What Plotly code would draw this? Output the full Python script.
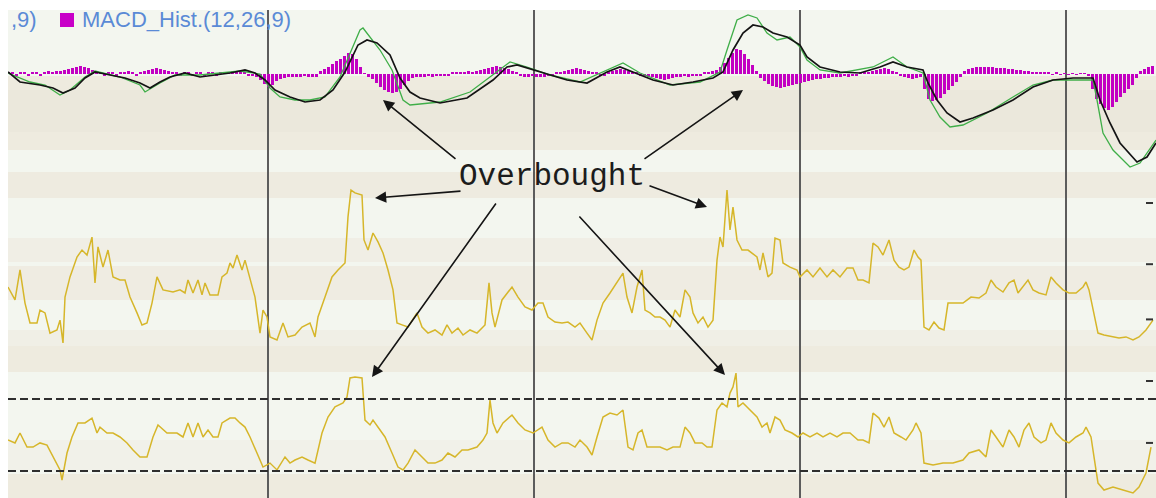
import plotly.graph_objects as go

# ---------------- data (bar index, value) ----------------
N_BARS = 287
PERIOD_BREAKS = [65, 131.4, 197.9, 264.4]

# MACD histogram, one value per bar (0..286)
HIST = [
    0.05, 0.04, -0.03, 0.04, 0.05, -0.04, 0.04, 0.05, -0.03, 0.04, 0.06, 0.05, 0.06,
    0.06, 0.08, 0.10, 0.12, 0.14, 0.16, 0.14, 0.12, 0.08, 0.05,
    0.04, -0.03, 0.05, 0.04, -0.04, 0.05, 0.04, 0.06, 0.05, -0.03,
    0.05, 0.06, 0.08, 0.10, 0.12, 0.10, 0.08, 0.06, 0.04,
    0.04, -0.03, 0.04, 0.05, -0.04, 0.03, 0.04, -0.03, 0.05, 0.04,
    -0.04, 0.03, 0.05, 0.04, 0.06, 0.05, 0.04, 0.03, -0.03, -0.04,
    -0.06, -0.12, -0.20, -0.26, -0.22,
    -0.14, -0.10, -0.08, -0.06, -0.05, -0.06, -0.05, -0.04, -0.05, -0.06, -0.05,
    0.06, 0.10, 0.14, 0.20, 0.26,
    0.30, 0.36, 0.42, 0.40, 0.30,
    0.14, 0.02, -0.06,
    -0.10, -0.18, -0.26, -0.32, -0.36, -0.38, -0.36, -0.30, -0.22, -0.14,
    -0.08, -0.06, -0.05, -0.06, -0.04, -0.05, -0.04, -0.03, -0.04, -0.03,
    0.03, 0.04, 0.03, 0.05, 0.06, 0.05, 0.06, 0.08, 0.10, 0.12,
    0.14, 0.16, 0.14, 0.12, 0.10, 0.06, 0.04,
    -0.04, -0.05, -0.06, -0.04, -0.05, -0.06, -0.05, -0.04, -0.03, 0.03,
    0.04, 0.06, 0.08, 0.10, 0.12, 0.10, 0.08, 0.06, 0.04, 0.03,
    -0.03, -0.04, 0.04, 0.06, 0.08, 0.10, 0.08, 0.06, 0.04, 0.03, -0.03, -0.04, -0.05,
    -0.06, -0.08, -0.10, -0.12, -0.10, -0.08, -0.06, -0.05, -0.04, -0.05,
    -0.04, -0.03, -0.04, 0.03, 0.04, 0.06, 0.08,
    0.14, 0.22, 0.32, 0.42, 0.50, 0.48, 0.40, 0.30, 0.18, 0.06,
    -0.08, -0.14, -0.20, -0.24, -0.26, -0.28, -0.26, -0.24, -0.22, -0.20,
    -0.18, -0.16, -0.14, -0.12, -0.10, -0.10, -0.08, -0.08, -0.06, -0.06,
    -0.05, -0.04, -0.05, -0.04, -0.03, 0.03, 0.04, 0.05,
    0.06, 0.08, 0.10, 0.12, 0.10, 0.06, 0.03, -0.04, -0.06,
    -0.08, -0.10, -0.08, -0.06,
    -0.30, -0.50, -0.54, -0.52, -0.48, -0.40, -0.32, -0.24, -0.16, -0.06,
    0.06, 0.10, 0.13, 0.14, 0.15, 0.14, 0.15, 0.14, 0.13, 0.12,
    0.12, 0.10, 0.10, 0.09, 0.08, 0.07, 0.06, 0.05, 0.05, 0.04, 0.04,
    0.03, -0.02, 0.03, -0.02, 0.02, -0.02, 0.02, -0.02, 0.02, 0.02, -0.04,
    -0.30, -0.50, -0.60, -0.68, -0.72, -0.66, -0.56, -0.46, -0.38, -0.30, -0.22, -0.08,
    0.06, 0.10, 0.14, 0.16,
]

# black MACD line
BLACK_LINE = [
    (0, 0.04), (3, -0.16), (8, -0.22), (11.25, -0.28), (13.75, -0.38), (16.75, -0.28),
    (19.25, -0.08), (21.75, 0.04), (25.5, -0.02), (29.25, -0.08), (33, -0.18), (35.5, -0.28),
    (38, -0.16), (40.5, -0.06), (44.25, 0.02), (48, -0.06), (51.75, -0.02), (55.5, 0.02),
    (59.25, 0.08), (61.75, 0.02), (64.25, -0.12), (66.75, -0.32), (70.5, -0.46), (74.25, -0.56),
    (78, -0.52), (81.25, -0.32), (84.25, 0.04), (86, 0.32), (87.5, 0.58), (89.75, 0.68),
    (92.25, 0.62), (95.5, 0.38), (98, -0.08), (100.5, -0.36), (103, -0.48), (108, -0.58),
    (114.75, -0.48), (121.25, -0.12), (124.75, 0.14), (127.25, 0.18), (131.25, 0.08),
    (135.5, -0.02), (139.75, -0.12), (144.75, -0.18), (149.75, 0.04), (153, 0.14),
    (156.25, 0.04), (161.25, -0.12), (166.25, -0.22), (171.25, -0.16), (176.25, -0.08),
    (178.75, 0.04), (181.25, 0.48), (183.75, 0.82), (186.25, 0.98), (188.75, 0.94),
    (191.25, 0.82), (194.75, 0.74), (198, 0.58), (199.75, 0.34), (203, 0.14), (208, 0.04),
    (213, 0.02), (218, 0.14), (221.25, 0.24), (224.75, 0.14), (228.75, 0.08), (230, -0.18),
    (232.25, -0.52), (234.75, -0.78), (238, -0.96), (241.25, -0.88), (246.25, -0.72),
    (251.25, -0.52), (256.25, -0.26), (261.25, -0.12), (266.25, -0.08), (271.25, -0.08),
    (273, -0.52), (275.5, -0.98), (278, -1.38), (282.25, -1.76), (284.75, -1.66), (287, -1.38),
]

# green signal line
GREEN_LINE = [
    (0, 0.02), (5.5, -0.16), (9.25, -0.22), (13, -0.42), (15.5, -0.32), (19.25, -0.06),
    (21.75, 0.06), (28, -0.06), (33, -0.22), (34.25, -0.36), (38, -0.18), (41.75, -0.02),
    (48, -0.02), (58, 0.06), (63, 0.0), (65.5, -0.28), (68, -0.46), (71.75, -0.52),
    (75.5, -0.52), (79.25, -0.46), (83, -0.06), (85.5, 0.42), (88, 0.88), (88.75, 0.92),
    (90.5, 0.74), (93, 0.48), (96, 0.08), (98.75, -0.52), (100.5, -0.62), (108, -0.56),
    (115.5, -0.36), (121.25, -0.02), (125.5, 0.24), (129.75, 0.14), (135.5, -0.02),
    (143, -0.16), (149.75, 0.08), (153.75, 0.22), (158, 0.02), (165.5, -0.22), (173, -0.16),
    (178, 0.04), (179.75, 0.48), (182.25, 1.08), (185, 1.18), (187.25, 1.12), (189.75, 0.82),
    (192.25, 0.68), (195.5, 0.74), (198, 0.54), (199.75, 0.28), (203, 0.08), (208, 0.02),
    (216.25, 0.14), (221.25, 0.34), (224.75, 0.14), (228.75, 0.02), (230.5, -0.52),
    (233, -0.86), (235.5, -1.06), (238.75, -1.02), (244.75, -0.78), (251.25, -0.46),
    (256.25, -0.22), (261.25, -0.12), (271.25, -0.12), (272.25, -0.52), (273.75, -1.18),
    (276.25, -1.52), (280.5, -1.86), (283, -1.78), (287, -1.32),
]

# middle yellow indicator
MID_LINE = [
    (0, 40.0), (1.75, 34.6), (3, 47.1), (4.25, 33.3), (5.5, 25.0), (7.25, 25.0), (8, 30.4),
    (9.25, 29.2), (10.5, 20.8), (12.25, 22.1), (13, 26.2), (13.75, 16.7), (14.25, 35.8),
    (15.5, 44.2), (17.25, 52.5), (18.5, 55.4), (19.75, 53.3), (21, 60.8), (21.75, 41.7),
    (22.5, 56.7), (23.75, 48.3), (25, 55.4), (26.25, 44.2), (28, 42.9), (29.25, 42.9),
    (30.5, 35.8), (32.25, 29.2), (33.5, 24.2), (34.75, 25.0), (36, 33.3), (37.25, 44.2),
    (38.75, 38.8), (41.25, 37.9), (43, 38.8), (44.25, 37.5), (45, 42.9), (46.25, 37.5),
    (47.5, 42.9), (48.5, 36.7), (49.25, 41.7), (50.5, 36.7), (52.5, 36.7), (53.5, 44.2),
    (54.75, 45.8), (55.5, 50.0), (56.25, 47.9), (57.25, 53.3), (58.5, 47.1), (59.25, 51.2),
    (60.5, 42.9), (61.75, 35.8), (63, 20.8), (63.75, 30.4), (64.75, 27.5), (65.5, 19.2),
    (67.25, 17.9), (68.75, 25.0), (70, 19.2), (71.75, 20.0), (73.5, 23.3), (75.5, 25.0),
    (76.75, 19.2), (77.5, 27.5), (79.25, 35.8), (81, 44.2), (82.5, 47.1), (84.25, 50.0),
    (85, 69.2), (85.75, 80.4), (86.75, 79.2), (88.5, 78.3), (89, 59.6), (90, 55.4),
    (91.25, 62.5), (92.5, 58.8), (93.75, 54.2), (95, 47.1), (96.25, 38.8), (97.25, 25.0),
    (98.5, 24.2), (100, 23.3), (102.25, 29.2), (103.5, 23.3), (105, 20.8), (106.75, 22.1),
    (108.5, 20.0), (109.75, 24.2), (111, 20.8), (112.5, 22.9), (113.75, 20.0), (115.5, 22.1),
    (117.25, 20.8), (118.5, 22.9), (119.25, 24.2), (120.25, 41.7), (121, 29.2), (121.75, 23.3),
    (123.5, 34.6), (126, 40.0), (127.5, 35.8), (129.25, 31.7), (131, 30.4), (132.5, 33.3),
    (133.75, 33.3), (135, 27.5), (136.75, 25.4), (138.5, 25.0), (140, 25.4), (141.75, 23.3),
    (143, 25.0), (144.75, 20.8), (146, 17.9), (147.25, 26.2), (148.75, 33.3), (150.5, 37.5),
    (152.25, 41.7), (153.75, 45.8), (154.75, 35.8), (156, 29.2), (157.25, 40.0), (158.5, 47.1),
    (159.25, 30.4), (160.5, 29.2), (161.75, 27.5), (163, 27.5), (164.25, 26.2), (165.5, 23.3),
    (166.75, 30.4), (168, 27.5), (169.25, 38.8), (170.5, 35.8), (171.25, 29.2), (172.5, 25.0),
    (173.75, 27.5), (175, 23.3), (176.25, 26.2), (177.25, 51.2), (178, 60.8), (178.75, 56.7),
    (179.75, 80.4), (180.5, 63.8), (181.25, 73.3), (182.25, 59.6), (183.5, 55.4), (185, 55.4),
    (187.25, 52.5), (188, 47.1), (188.75, 54.2), (190, 44.2), (191, 45.8), (191.75, 60.4),
    (193, 59.6), (193.75, 50.0), (195.5, 48.3), (197.25, 47.1), (198, 44.2), (199.75, 47.1),
    (201.25, 44.2), (203, 47.9), (204.75, 44.2), (206.25, 47.1), (208, 44.2), (209.75, 47.9),
    (211.25, 47.9), (212.5, 42.9), (213.75, 42.9), (215.25, 41.7), (216.25, 58.3), (217.5, 56.7),
    (218.75, 53.3), (220.25, 59.6), (221.5, 51.2), (222.75, 48.3), (224, 47.1), (225.25, 48.3),
    (226.5, 55.4), (227.5, 52.5), (228.25, 51.2), (229, 23.3), (230.25, 22.1), (231.5, 25.4),
    (232.75, 22.9), (234, 22.1), (235, 33.3), (237, 33.3), (238.75, 33.3), (240.75, 35.8),
    (242.75, 35.4), (244.5, 37.5), (245.75, 42.9), (247, 40.0), (248.75, 37.9), (250.25, 41.7),
    (251.5, 42.9), (252.5, 37.5), (253.75, 40.0), (255, 42.9), (256.25, 38.8), (257.75, 37.5),
    (259.5, 36.7), (260.75, 44.2), (262, 41.7), (263.75, 38.8), (265.25, 37.5), (267, 37.5),
    (268.75, 40.0), (269.5, 42.1), (270.25, 38.8), (271.5, 29.2), (272.5, 20.8), (274, 20.0),
    (276.25, 19.2), (277.75, 18.8), (279.5, 19.2), (281.25, 17.9), (282.75, 19.2),
    (284.5, 22.1), (286.25, 26.2),
]

# lower yellow oscillator (RSI-like, with 70 / 30 bands)
LOW_LINE = [
    (0, 47.2), (1.75, 45.6), (3, 51.1), (4.75, 43.3), (6.25, 43.3), (8, 45.6), (9.75, 44.4),
    (11.25, 37.8), (13, 30.6), (13.5, 25.0), (14.75, 40.0), (16, 48.9), (17.5, 56.7),
    (19.25, 56.7), (21, 59.4), (22.25, 51.1), (23, 54.4), (24.75, 51.1), (26.25, 51.1),
    (28, 48.9), (29.75, 45.6), (31.25, 41.7), (33, 37.8), (34.75, 37.8), (36.25, 48.9),
    (37.5, 55.6), (39.75, 51.1), (42.25, 51.1), (43.75, 48.9), (45, 56.7), (46.25, 48.9),
    (47.5, 56.7), (48.75, 48.9), (50, 52.8), (51.25, 48.9), (52.5, 48.9), (53.5, 56.7),
    (55.5, 59.4), (56.75, 59.4), (58, 56.7), (59.25, 54.4), (60.5, 48.9), (62.25, 40.0),
    (63.75, 32.2), (65.5, 34.4), (67.25, 30.6), (69.25, 37.8), (70.5, 34.4), (71.75, 36.1),
    (73.5, 37.8), (75, 36.1), (76.75, 34.4), (78.5, 51.1), (80, 60.0), (81.75, 65.6),
    (83.75, 67.8), (84.75, 71.1), (85.5, 81.7), (86.75, 82.2), (88.5, 81.7), (89.25, 58.3),
    (90.5, 55.6), (91.25, 58.3), (92.5, 54.4), (94.25, 48.9), (96, 40.0), (97.5, 32.2),
    (98.75, 30.6), (100, 34.4), (101.75, 41.7), (103.5, 37.8), (105, 34.4), (106.75, 34.4),
    (108.5, 36.1), (110, 40.0), (111.75, 37.8), (113.5, 41.7), (115, 41.7), (117.25, 43.3),
    (118.75, 47.2), (119.75, 51.1), (120.5, 69.4), (121.25, 56.7), (122.25, 51.1),
    (123.75, 56.7), (126, 61.1), (127.5, 56.7), (129.25, 52.8), (131.25, 51.1), (133.5, 54.4),
    (135, 47.2), (136.75, 43.3), (138.5, 45.6), (140, 45.6), (141.75, 43.3), (143, 47.2),
    (144.75, 43.3), (146, 38.9), (147.25, 48.9), (148.75, 60.0), (150.5, 62.2), (152.25, 61.1),
    (153.75, 63.9), (155, 43.3), (156.25, 41.7), (157.5, 51.1), (158.5, 52.8), (159.75, 43.3),
    (161.25, 43.3), (163, 43.3), (164.75, 41.7), (166.25, 43.3), (168, 43.3), (169.25, 54.4),
    (170.5, 51.1), (171.75, 45.6), (173.5, 45.6), (174.75, 43.3), (176, 43.3), (177.25, 63.9),
    (178.5, 67.8), (179.75, 65.6), (180.5, 73.3), (181.25, 76.7), (182, 84.4), (182.5, 65.6),
    (183.75, 67.8), (185.5, 63.9), (187.25, 60.0), (188.5, 54.4), (189.75, 56.7), (190.5, 51.1),
    (191.75, 60.0), (193, 58.3), (194.25, 52.8), (196, 51.1), (197.5, 48.9), (198.75, 51.1),
    (200.5, 48.9), (202.25, 51.1), (203.75, 48.9), (205.5, 51.1), (207.25, 48.9), (208.75, 51.1),
    (210.5, 51.1), (212.5, 47.2), (213.75, 47.2), (215.25, 45.6), (216.25, 62.2), (217.75, 59.4),
    (219, 54.4), (220.25, 60.0), (221.5, 51.1), (223.25, 48.9), (224.5, 47.2), (226.25, 52.8),
    (227, 56.7), (228.25, 51.1), (229, 34.4), (231.25, 33.3), (233.75, 34.4), (236.25, 34.4),
    (238.75, 36.1), (240.25, 40.0), (242.75, 41.7), (244.5, 37.8), (245.75, 52.8), (247, 48.9),
    (248.75, 43.3), (250.25, 52.8), (251.5, 48.9), (252.75, 43.3), (254, 52.8), (255.25, 56.7),
    (256.5, 48.9), (258.25, 45.6), (259.5, 47.2), (260.75, 56.7), (262, 51.1), (263.75, 47.2),
    (265.25, 45.6), (267, 48.9), (268.75, 51.1), (269.5, 54.4), (270.75, 48.9), (271.5, 37.8),
    (272.5, 23.3), (274, 19.4), (276.25, 21.1), (278.75, 19.4), (281.25, 17.8), (282.75, 21.1),
    (284.5, 28.9), (285.75, 43.3),
]

LOW_LEVELS = [70, 30]
MID_TICKS = [75, 49.5, 26.5]
LOW_TICKS = [80, 45.6]

# "Overbought" arrows: (axis, bar, value, tail dx px, tail dy px)
ARROWS = [
    ("y", 93.75, -0.52, 74, 60),
    ("y2", 91.75, 77.1, 87, -7),
    ("y3", 91.0, 82.2, 125, -175),
    ("y", 183.75, -0.32, -100, 70),
    ("y2", 174.75, 73.3, -59, -22),
    ("y3", 179.25, 83.3, -147, -160),
]

# ---------------- layout constants ----------------
W, H = 1156, 498
ML, MR, MT, MB = 8, 0, 10, 0
PLOT_W = W - ML - MR
PLOT_H = H - MT - MB


def pyp(py):
    """screen pixel row -> paper fraction"""
    return (MT + PLOT_H - py) / PLOT_H


def pxp(px):
    return (px - ML) / PLOT_W


D_MACD = [pyp(176), 1.0]
D_MID = [pyp(347), pyp(176)]
D_LOW = [0.0, pyp(347)]

BANDS = [
    (10, 498, "#f3f6ef"),
    (76, 150, "#eeebdf"),
    (90, 132, "#ebe8dc"),
    (172, 198, "#eeebe0"),
    (238, 262, "#f0eee5"),
    (266, 300, "#efece2"),
    (330, 346, "#f0efe6"),
    (346, 372, "#eeebdf"),
    (440, 470, "#f1f1e9"),
    (474, 498, "#eeebdf"),
]

fig = go.Figure()

fig.add_trace(go.Bar(
    x=list(range(len(HIST))), y=HIST, width=0.75,
    marker=dict(color="#c200c2", line=dict(width=0)),
    xaxis="x", yaxis="y", hoverinfo="skip",
))
fig.add_trace(go.Scatter(
    x=[p[0] for p in GREEN_LINE], y=[p[1] for p in GREEN_LINE], mode="lines",
    line=dict(color="#3fae48", width=1.3), xaxis="x", yaxis="y",
))
fig.add_trace(go.Scatter(
    x=[p[0] for p in BLACK_LINE], y=[p[1] for p in BLACK_LINE], mode="lines",
    line=dict(color="#141414", width=1.7), xaxis="x", yaxis="y",
))
fig.add_trace(go.Scatter(
    x=[p[0] for p in MID_LINE], y=[p[1] for p in MID_LINE], mode="lines",
    line=dict(color="#d6b62a", width=1.5), xaxis="x", yaxis="y2",
))
fig.add_trace(go.Scatter(
    x=[p[0] for p in LOW_LINE], y=[p[1] for p in LOW_LINE], mode="lines",
    line=dict(color="#d6b62a", width=1.5), xaxis="x", yaxis="y3",
))

shapes = []
for y0, y1, col in BANDS:
    shapes.append(dict(type="rect", xref="paper", yref="paper", x0=0, x1=1,
                       y0=pyp(y1), y1=pyp(y0), fillcolor=col, line=dict(width=0),
                       layer="below"))
for lvl in LOW_LEVELS:
    shapes.append(dict(type="line", xref="paper", yref="y3", x0=0, x1=1, y0=lvl, y1=lvl,
                       line=dict(color="#2e2e2e", width=2, dash="8px,4px"), layer="above"))
# right-edge scale ticks
for yax, vals in (("y2", MID_TICKS), ("y3", LOW_TICKS)):
    for v in vals:
        shapes.append(dict(type="line", xref="paper", yref=yax, x0=pxp(1146), x1=pxp(1153),
                           y0=v, y1=v, line=dict(color="#333333", width=2), layer="above"))
# legend swatch
shapes.append(dict(type="rect", xref="paper", yref="paper",
                   x0=pxp(60), x1=pxp(74), y0=pyp(27), y1=pyp(13),
                   fillcolor="#c800c8", line=dict(width=0), layer="above"))

annotations = [
    dict(text=",9)", xref="paper", yref="paper", x=pxp(9), y=pyp(20), xanchor="left",
         yanchor="middle", showarrow=False,
         font=dict(family="Liberation Sans, Arial", size=22, color="#5a8ad6")),
    dict(text="MACD_Hist.(12,26,9)", xref="paper", yref="paper", x=pxp(80), y=pyp(20),
         xanchor="left", yanchor="middle", showarrow=False,
         font=dict(family="Liberation Sans, Arial", size=22, color="#5a8ad6")),
    dict(text="Overbought", xref="paper", yref="paper", x=pxp(552), y=pyp(177),
         xanchor="center", yanchor="middle", showarrow=False,
         font=dict(family="Courier New, Liberation Mono, monospace", size=31, color="#1c1c1c")),
]
for yax, bx, val, dx, dy in ARROWS:
    annotations.append(dict(
        text="", xref="x", yref=yax, x=bx, y=val, ax=dx, ay=dy,
        axref="pixel", ayref="pixel", showarrow=True, arrowhead=2, arrowsize=1.4,
        arrowwidth=1.6, arrowcolor="#151515",
    ))

fig.update_layout(
    width=W, height=H, margin=dict(l=ML, r=MR, t=MT, b=MB, pad=0),
    paper_bgcolor="white", plot_bgcolor="rgba(0,0,0,0)",
    showlegend=False, bargap=0,
    shapes=shapes, annotations=annotations,
    xaxis=dict(domain=[0, 1], range=[0, N_BARS], anchor="y3",
               tickvals=PERIOD_BREAKS, showticklabels=False, ticks="",
               showgrid=True, gridcolor="#5c5c5c", gridwidth=1.5,
               zeroline=False, showline=False, fixedrange=True),
    yaxis=dict(domain=D_MACD, range=[-2.04, 1.28], anchor="x",
               showgrid=False, zeroline=False, showticklabels=False, ticks=""),
    yaxis2=dict(domain=D_MID, range=[15, 86.25], anchor="x", side="right",
                showticklabels=False, ticks="", showgrid=False, zeroline=False),
    yaxis3=dict(domain=D_LOW, range=[15, 98.89], anchor="x", side="right",
                showticklabels=False, ticks="", showgrid=False, zeroline=False),
)

fig.write_html(
    "out.html",
    config={"displayModeBar": False},
    post_script="document.body.style.margin='0';"
                "document.documentElement.style.overflow='hidden';"
                "document.body.style.overflow='hidden';",
)
